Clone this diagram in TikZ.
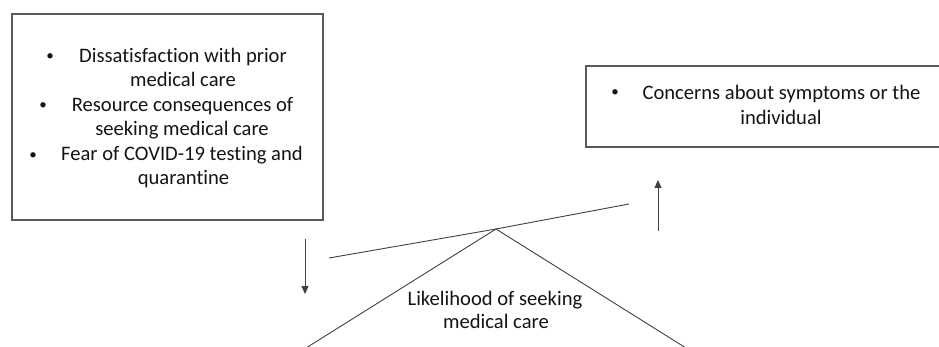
\documentclass[tikz,border=0pt]{standalone}
\usepackage{fontspec}
\setmainfont{Carlito}[Ligatures=NoCommon]
\usetikzlibrary{arrows.meta}
\definecolor{linegray}{HTML}{404040}
\definecolor{boxgray}{HTML}{5A5A5A}
\definecolor{txt}{HTML}{141414}
\begin{document}
\begin{tikzpicture}[x=1pt,y=-1pt,
  boxstyle/.style={draw=boxgray, line width=1.1pt, inner sep=0pt},
  txtline/.style={anchor=base, inner sep=0pt, text=txt, font=\fontsize{20.6}{24}\selectfont},
  bul/.style={inner sep=0pt, text=txt, font=\fontsize{15}{18}\selectfont},
  ln/.style={draw=linegray, line width=0.9pt},
  arr/.style={draw=linegray, line width=0.9pt, -{Triangle[length=8pt,width=7pt]}}]
\useasboundingbox (0,0) rectangle (939,347);
\clip (0,0) rectangle (939,347);
% left box
\node[boxstyle, minimum width=311pt, minimum height=206pt] (leftbox) at (167.5,117) {};
\node[bul] (b1) at (50,57) {•};
\node[txtline] (t1) at (183,63) {Dissatisfaction with prior};
\node[txtline] (t2) at (183,87) {medical care};
\node[bul] (b2) at (43,106) {•};
\node[txtline] (t3) at (182.5,112) {Resource consequences of};
\node[txtline] (t4) at (182,136) {seeking medical care};
\node[bul] (b3) at (33,156) {•};
\node[txtline] (t5) at (182,161) {Fear of COVID-19 testing and};
\node[txtline] (t6) at (183.5,185) {quarantine};
% right box
\node[boxstyle, minimum width=364pt, minimum height=81pt] (rightbox) at (768,106.5) {};
\node[bul] (b4) at (615,93) {•};
\node[txtline] (t7) at (781.5,100) {Concerns about symptoms or the};
\node[txtline] (t8) at (781,125) {individual};
% arrows
\coordinate (dtop) at (305,239);
\coordinate (dbot) at (305,294);
\draw[arr] (dtop) -- (dbot);
\coordinate (ubot) at (658,231);
\coordinate (utop) at (658,180);
\draw[arr] (ubot) -- (utop);
% seesaw
\coordinate (bl) at (329,258);
\coordinate (br) at (629,204);
\coordinate (pivot) at (496,229);
\coordinate (fl) at (306,348);
\coordinate (fr) at (686,348);
\draw[ln] (bl) -- (pivot) -- (br);
\draw[ln] (fl) -- (pivot) -- (fr);
\node[txtline] (t9) at (495,305) {Likelihood of seeking};
\node[txtline] (t10) at (496,328) {medical care};
\end{tikzpicture}
\end{document}
